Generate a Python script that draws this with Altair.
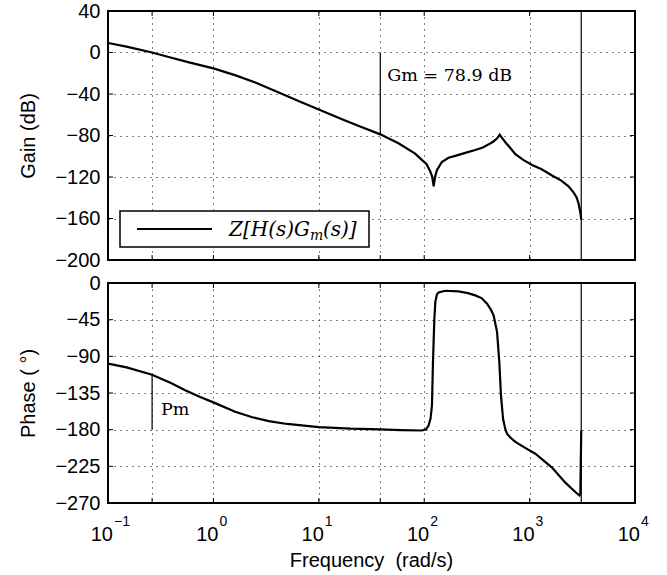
import altair as alt
import pandas as pd

# ---------------- data ----------------
gain_f = [0.1, 0.15, 0.262, 0.4, 0.6, 1.0, 1.6, 2.5, 4.17, 6.5, 10, 16.6, 25, 38.3,
          57, 82, 95, 105, 114, 119, 123, 127, 132, 147, 170, 197, 250, 305, 360,
          410, 450, 490, 520, 545, 589, 650, 733, 870, 1055, 1300, 1633, 2000,
          2340, 2620, 2800, 2922, 3000, 3060, 3090]
gain_db = [9.2, 5.6, 0.0, -5.0, -9.8, -15.3, -21.8, -29.0, -38.6, -47.0, -55.0, -64.3,
           -71.5, -78.9, -87.5, -97.5, -103.5, -107.5, -114.5, -119.5, -129.0, -119.5,
           -113.5, -105.5, -101.5, -99.6, -96.5, -94.0, -91.5, -88.5, -86.0, -83.0,
           -79.2, -82.0, -86.5, -91.5, -98.0, -103.5, -108.5, -112.5, -118.5, -123.5,
           -129.0, -135.0, -140.0, -146.0, -152.0, -157.0, -161.0]

phase_f = [0.1, 0.15, 0.262, 0.4, 0.54, 0.75, 1.0, 1.61, 2.3, 3.35, 5, 10, 20, 38, 60,
           95, 104, 110, 115, 118.5, 121, 124.7, 127.6, 132, 137, 158, 212, 260, 305,
           350, 395, 430, 456, 491, 516, 535, 560, 590, 611, 660, 733, 900, 1133,
           1632, 2184, 2716, 2965, 3030, 3090]
phase_deg = [-99, -103.5, -112.5, -123, -131.5, -140, -146.5, -158, -164.5, -169.5,
             -173, -176.8, -178.7, -179.6, -180.5, -181, -179.5, -175, -166, -150,
             -100, -45, -23, -14, -11.5, -9.5, -10.3, -12.5, -15.2, -18.5, -25.4, -33,
             -40, -60, -97, -138, -166.6, -180, -185, -190, -195, -202, -209.5,
             -226.5, -245, -256.5, -260.7, -259, -181]

decades = [0.1, 1, 10, 100, 1000, 10000]
dec_base = ["10", "10", "10", "10", "10", "10"]
dec_exp = ["\u22121", "0", "1", "2", "3", "4"]
x_grid = [0.262, 1, 10, 38.3, 100, 1000]
x_ticks = [0.262, 1, 10, 38.3, 100, 1000]
gain_ticks = [40, 0, -40, -80, -120, -160, -200]
phase_ticks = [0, -45, -90, -135, -180, -225, -270]

gm_f, gm_db = 38.3, -78.9
gm_label = "Gm = 78.9 dB"
pm_f, pm_deg = 0.262, -112.5
pm_label = "Pm"
asym_f = 3090
legend_parts = ["Z[H(s)G", "m", "(s)]"]

# ---------------- tables ----------------
gain_df = pd.DataFrame({"f": gain_f, "v": gain_db, "o": range(len(gain_f))})
phase_df = pd.DataFrame({"f": phase_f, "v": phase_deg, "o": range(len(phase_f))})
dec_df = pd.DataFrame({"f": decades, "b": dec_base, "e": dec_exp})
xt_df = pd.DataFrame({"f": x_ticks})

W, H1, H2 = 527, 249, 220
SANS = "Liberation Sans"
SERIF = "DejaVu Serif"
GRID = dict(grid=True, gridDash=[1, 5], gridColor="black", gridWidth=1, gridOpacity=1)

xs = alt.Scale(type="log", domain=[0.1, 10000], nice=False)
XAX = alt.Axis(values=x_grid, labels=False, ticks=False, domain=False, title=None,
               labelOverlap=False, **GRID)


def X():
    return alt.X("f:Q", scale=xs, axis=XAX)


def make_y(field, ys, yax):
    return alt.Y(field, scale=ys, axis=yax)


def panel(df, yticks, ydomain, ytitle, H):
    ys = alt.Scale(domain=ydomain, nice=False, zero=False)
    yax = alt.Axis(values=yticks, title=ytitle, ticks=False, domain=False,
                   labelPadding=8, titlePadding=16, labelOverlap=False, **GRID)
    line = alt.Chart(df).mark_line(color="black", strokeWidth=2.2, clip=True).encode(
        x=X(), y=make_y("v:Q", ys, yax), order="o:Q")
    asym = alt.Chart(pd.DataFrame({"f": [asym_f]})).mark_rule(
        color="black", strokeWidth=1.2).encode(x=X())
    tb = alt.Chart(xt_df).mark_rule(color="black", strokeWidth=1)
    tick_top = tb.encode(x=X(), y=alt.value(0), y2=alt.value(5))
    tick_bot = tb.encode(x=X(), y=alt.value(H - 5), y2=alt.value(H))
    yt = alt.Chart(pd.DataFrame({"v": yticks})).mark_rule(color="black", strokeWidth=1)
    tick_l = yt.encode(y=make_y("v:Q", ys, yax), x=alt.value(0), x2=alt.value(5))
    tick_r = yt.encode(y=make_y("v:Q", ys, yax), x=alt.value(W - 5), x2=alt.value(W))
    return [line, asym, tick_top, tick_bot, tick_l, tick_r], ys, yax


# ---------------- top: gain ----------------
top_layers, ys1, yax1 = panel(gain_df, gain_ticks, [-200, 40], "Gain (dB)", H1)
gm_rule = alt.Chart(pd.DataFrame({"f": [gm_f], "v": [0], "b": [gm_db]})).mark_rule(
    color="black", strokeWidth=1.2).encode(
    x=X(), y=make_y("v:Q", ys1, yax1), y2="b:Q")
gm_text = alt.Chart(pd.DataFrame({"f": [gm_f], "v": [-23], "t": [gm_label]})).mark_text(
    font=SERIF, fontSize=17.5, align="left", baseline="middle", dx=7, color="black").encode(
    x=X(), y=make_y("v:Q", ys1, yax1), text="t:N")

leg_box = alt.Chart(pd.DataFrame({"k": [0]})).mark_rect(
    fill="white", stroke="black", strokeWidth=1.5).encode(
    x=alt.value(12), x2=alt.value(261), y=alt.value(200), y2=alt.value(236))
leg_line = alt.Chart(pd.DataFrame({"k": [0]})).mark_rule(
    color="black", strokeWidth=2.2).encode(
    x=alt.value(29), x2=alt.value(104), y=alt.value(218))
leg_t1 = alt.Chart(pd.DataFrame({"t": [legend_parts[0]]})).mark_text(
    font=SERIF, fontSize=20, fontStyle="italic", align="right", baseline="alphabetic",
    color="black").encode(x=alt.value(202), y=alt.value(225), text="t:N")
leg_t2 = alt.Chart(pd.DataFrame({"t": [legend_parts[1]]})).mark_text(
    font=SERIF, fontSize=14, fontStyle="italic", align="left", baseline="alphabetic",
    color="black").encode(x=alt.value(202), y=alt.value(229), text="t:N")
leg_t3 = alt.Chart(pd.DataFrame({"t": [legend_parts[2]]})).mark_text(
    font=SERIF, fontSize=20, fontStyle="italic", align="left", baseline="alphabetic",
    color="black").encode(x=alt.value(215), y=alt.value(225), text="t:N")

top = alt.layer(*top_layers, gm_rule, gm_text, leg_box, leg_line, leg_t1, leg_t2, leg_t3
                ).properties(width=W, height=H1)

# ---------------- bottom: phase ----------------
bot_layers, ys2, yax2 = panel(phase_df, phase_ticks, [-270, 0], "Phase ( \u00b0)", H2)
pm_rule = alt.Chart(pd.DataFrame({"f": [pm_f], "v": [-180], "b": [pm_deg]})).mark_rule(
    color="black", strokeWidth=1.2).encode(
    x=X(), y=make_y("v:Q", ys2, yax2), y2="b:Q")
pm_text = alt.Chart(pd.DataFrame({"f": [pm_f], "v": [-156], "t": [pm_label]})).mark_text(
    font=SERIF, fontSize=17.5, align="left", baseline="middle", dx=9, color="black").encode(
    x=X(), y=make_y("v:Q", ys2, yax2), text="t:N")
lab_base = alt.Chart(dec_df).mark_text(
    font=SANS, fontSize=20, align="right", baseline="alphabetic", dx=5, color="black").encode(
    x=X(), y=alt.value(H2 + 38), text="b:N")
lab_exp = alt.Chart(dec_df).mark_text(
    font=SANS, fontSize=14, align="left", baseline="alphabetic", dx=6, color="black").encode(
    x=X(), y=alt.value(H2 + 23), text="e:N")
xtitle = alt.Chart(pd.DataFrame({"t": ["Frequency\u00a0\u00a0(rad/s)"]})).mark_text(
    font=SANS, fontSize=20, align="center", baseline="alphabetic", color="black").encode(
    x=alt.value(W / 2), y=alt.value(H2 + 64), text="t:N")

bottom = alt.layer(*bot_layers, pm_rule, pm_text, lab_base, lab_exp, xtitle
                   ).properties(width=W, height=H2)

chart = alt.vconcat(top, bottom, spacing=23, bounds="flush").properties(
    padding={"left": 17, "top": 0, "right": 0, "bottom": 0},
    background="white",
).configure_view(stroke="black", strokeWidth=2).configure_axis(
    labelFont=SANS, labelFontSize=20, labelColor="black", labelOverlap=False,
    titleFont=SANS, titleFontSize=20, titleFontWeight="normal", titleColor="black",
)

chart.save("out.html", embed_options={"renderer": "svg", "actions": False})
